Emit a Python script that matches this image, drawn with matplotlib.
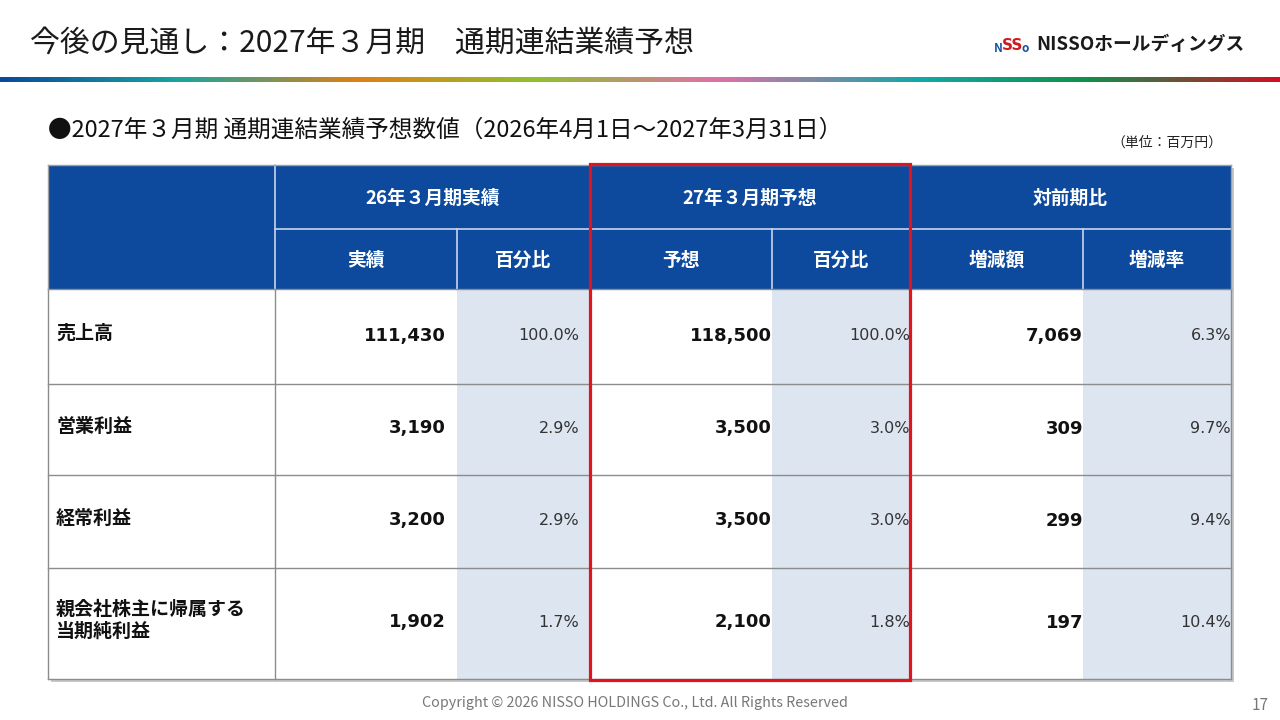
import matplotlib.pyplot as plt
import matplotlib.patches as mpatches
from matplotlib.colors import LinearSegmentedColormap
import numpy as np

plt.rcParams['font.family'] = ['Noto Sans CJK JP', 'DejaVu Sans']

# ---- data ----
title = "今後の見通し：2027年３月期　通期連結業績予想"
subtitle = "●2027年３月期 通期連結業績予想数値（2026年4月1日～2027年3月31日）"
unit_label = "（単位：百万円）"
group_headers = ["26年３月期実績", "27年３月期予想", "対前期比"]
sub_headers = ["実績", "百分比", "予想", "百分比", "増減額", "増減率"]
row_labels = ["売上高", "営業利益", "経常利益", "親会社株主に帰属する\n当期純利益"]
actual_26 = [111430, 3190, 3200, 1902]
ratio_26 = [100.0, 2.9, 2.9, 1.7]
forecast_27 = [118500, 3500, 3500, 2100]
ratio_27 = [100.0, 3.0, 3.0, 1.8]
change_amt = [7069, 309, 299, 197]
change_pct = [6.3, 9.7, 9.4, 10.4]
footer = "Copyright © 2026 NISSO HOLDINGS Co., Ltd. All Rights Reserved"
page_no = "17"

# ---- layout (pixels) ----
col_edges = [48, 275, 457, 590, 772, 910, 1083, 1231]
row_edges = [165, 229, 289, 384, 475, 568, 679]
text_right = [446, 579, 772, 910, 1083, 1231]

HEAD = "#0d4a9e"
SHADE = "#dce5f0"
GRID = "#8c8c8c"
RED = "#e0141e"

fig = plt.figure(figsize=(12.8, 7.2), dpi=100)
ax = fig.add_axes([0, 0, 1, 1])
ax.set_xlim(0, 1280)
ax.set_ylim(720, 0)
ax.axis("off")

# title + gradient rule
ax.text(30, 43, title, fontsize=21.5, va="center", ha="left", color="#1a1a1a")
grad = LinearSegmentedColormap.from_list("rule", [
    (0.0, "#0a4a9a"), (0.14, "#1aa5a0"), (0.28, "#e08010"), (0.42, "#90c030"),
    (0.56, "#e070a8"), (0.72, "#10a8a8"), (0.85, "#10904a"), (1.0, "#d01020")])
ax.imshow(np.linspace(0, 1, 512)[None, :], cmap=grad, aspect="auto",
          extent=(0, 1280, 82, 77), zorder=1)

# logo
ax.text(994, 48, "N", fontsize=8.5, fontweight="bold", color="#1450a0", va="center")
ax.text(1002, 45, "SS", fontsize=11, fontweight="bold", color="#d01a20", va="center",
        family="DejaVu Sans Condensed")
ax.text(1021, 48, "o", fontsize=8.5, fontweight="bold", color="#1450a0", va="center")
ax.text(1036, 45, "NISSOホールディングス", fontsize=13.5, fontweight="bold",
        color="#1a1a1a", va="center")

ax.text(48, 130, subtitle, fontsize=17, va="center", ha="left", color="#111111")
ax.text(1222, 143, unit_label, fontsize=10, va="center", ha="right", color="#222222")

x0, x1 = col_edges[0], col_edges[-1]
y0, y1 = row_edges[0], row_edges[-1]

# shadow
ax.add_patch(mpatches.Rectangle((x0 + 3, y0 + 3), x1 - x0, y1 - y0,
                                facecolor="#c8c8c8", edgecolor="none", zorder=1))
ax.add_patch(mpatches.Rectangle((x0, y0), x1 - x0, y1 - y0,
                                facecolor="white", edgecolor="none", zorder=2))

# header
ax.add_patch(mpatches.Rectangle((x0, y0), x1 - x0, row_edges[2] - y0,
                                facecolor=HEAD, edgecolor="none", zorder=3))
# shaded ratio columns
for c in (2, 4, 6):
    ax.add_patch(mpatches.Rectangle((col_edges[c], row_edges[2]),
                                    col_edges[c + 1] - col_edges[c], y1 - row_edges[2],
                                    facecolor=SHADE, edgecolor="none", zorder=3))

# header lines
hl = dict(color="#c9d6ea", lw=1.2, zorder=4)
for c in (1, 3, 5):
    ax.plot([col_edges[c]] * 2, [y0, row_edges[2]], **hl)
for c in (2, 4, 6):
    ax.plot([col_edges[c]] * 2, [row_edges[1], row_edges[2]], **hl)
ax.plot([col_edges[1], x1], [row_edges[1]] * 2, **hl)

# body lines
bl = dict(color=GRID, lw=1.0, zorder=4)
for r in row_edges[3:-1]:
    ax.plot([x0, x1], [r, r], **bl)
ax.plot([x0, x1], [row_edges[2]] * 2, **bl)
ax.plot([x0, x1], [y1, y1], **bl)
for c in (0, 1, 7):
    ax.plot([col_edges[c]] * 2, [row_edges[2], y1], **bl)
ax.plot([x0, x0], [y0, row_edges[2]], color="#a0a0a0", lw=1.0, zorder=4)
ax.plot([x1, x1], [y0, row_edges[2]], color="#a0a0a0", lw=1.0, zorder=4)
ax.plot([x0, x1], [y0, y0], color="#a0a0a0", lw=1.0, zorder=4)

# header text
for i, g in enumerate(group_headers):
    cx = (col_edges[1 + 2 * i] + col_edges[3 + 2 * i]) / 2
    ax.text(cx, (row_edges[0] + row_edges[1]) / 2 + 1, g, color="white",
            fontsize=13.5, fontweight="bold", ha="center", va="center", zorder=5)
for i, s in enumerate(sub_headers):
    cx = (col_edges[1 + i] + col_edges[2 + i]) / 2
    ax.text(cx, (row_edges[1] + row_edges[2]) / 2 + 1, s, color="white",
            fontsize=13.5, fontweight="bold", ha="center", va="center", zorder=5)

# body text
cols = [actual_26, ratio_26, forecast_27, ratio_27, change_amt, change_pct]
for r, label in enumerate(row_labels):
    cy = (row_edges[2 + r] + row_edges[3 + r]) / 2 - 1
    ax.text(56, cy - 2, label, fontsize=13.7, fontweight="bold", ha="left", va="center",
            linespacing=1.2, color="#111111", zorder=5)
    for c, vals in enumerate(cols):
        if c % 2 == 0:
            s, kw = f"{vals[r]:,}", dict(fontsize=13, fontweight="bold", color="#111111")
        else:
            s, kw = f"{vals[r]:.1f}%", dict(fontsize=11.5, color="#333333")
        ax.text(text_right[c], cy, s, ha="right", va="center", zorder=5,
                family="DejaVu Sans", **kw)

# red highlight box
ax.add_patch(mpatches.Rectangle((col_edges[3], y0 - 1), col_edges[5] - col_edges[3],
                                y1 - y0 + 2, facecolor="none", edgecolor=RED,
                                lw=2.3, zorder=6))

# footer
ax.text(635, 703, footer, fontsize=10.3, ha="center", va="center", color="#777777")
ax.text(1260, 705, page_no, fontsize=11, ha="center", va="center", color="#777777")

fig.savefig("out.png", dpi=100)
plt.close(fig)
